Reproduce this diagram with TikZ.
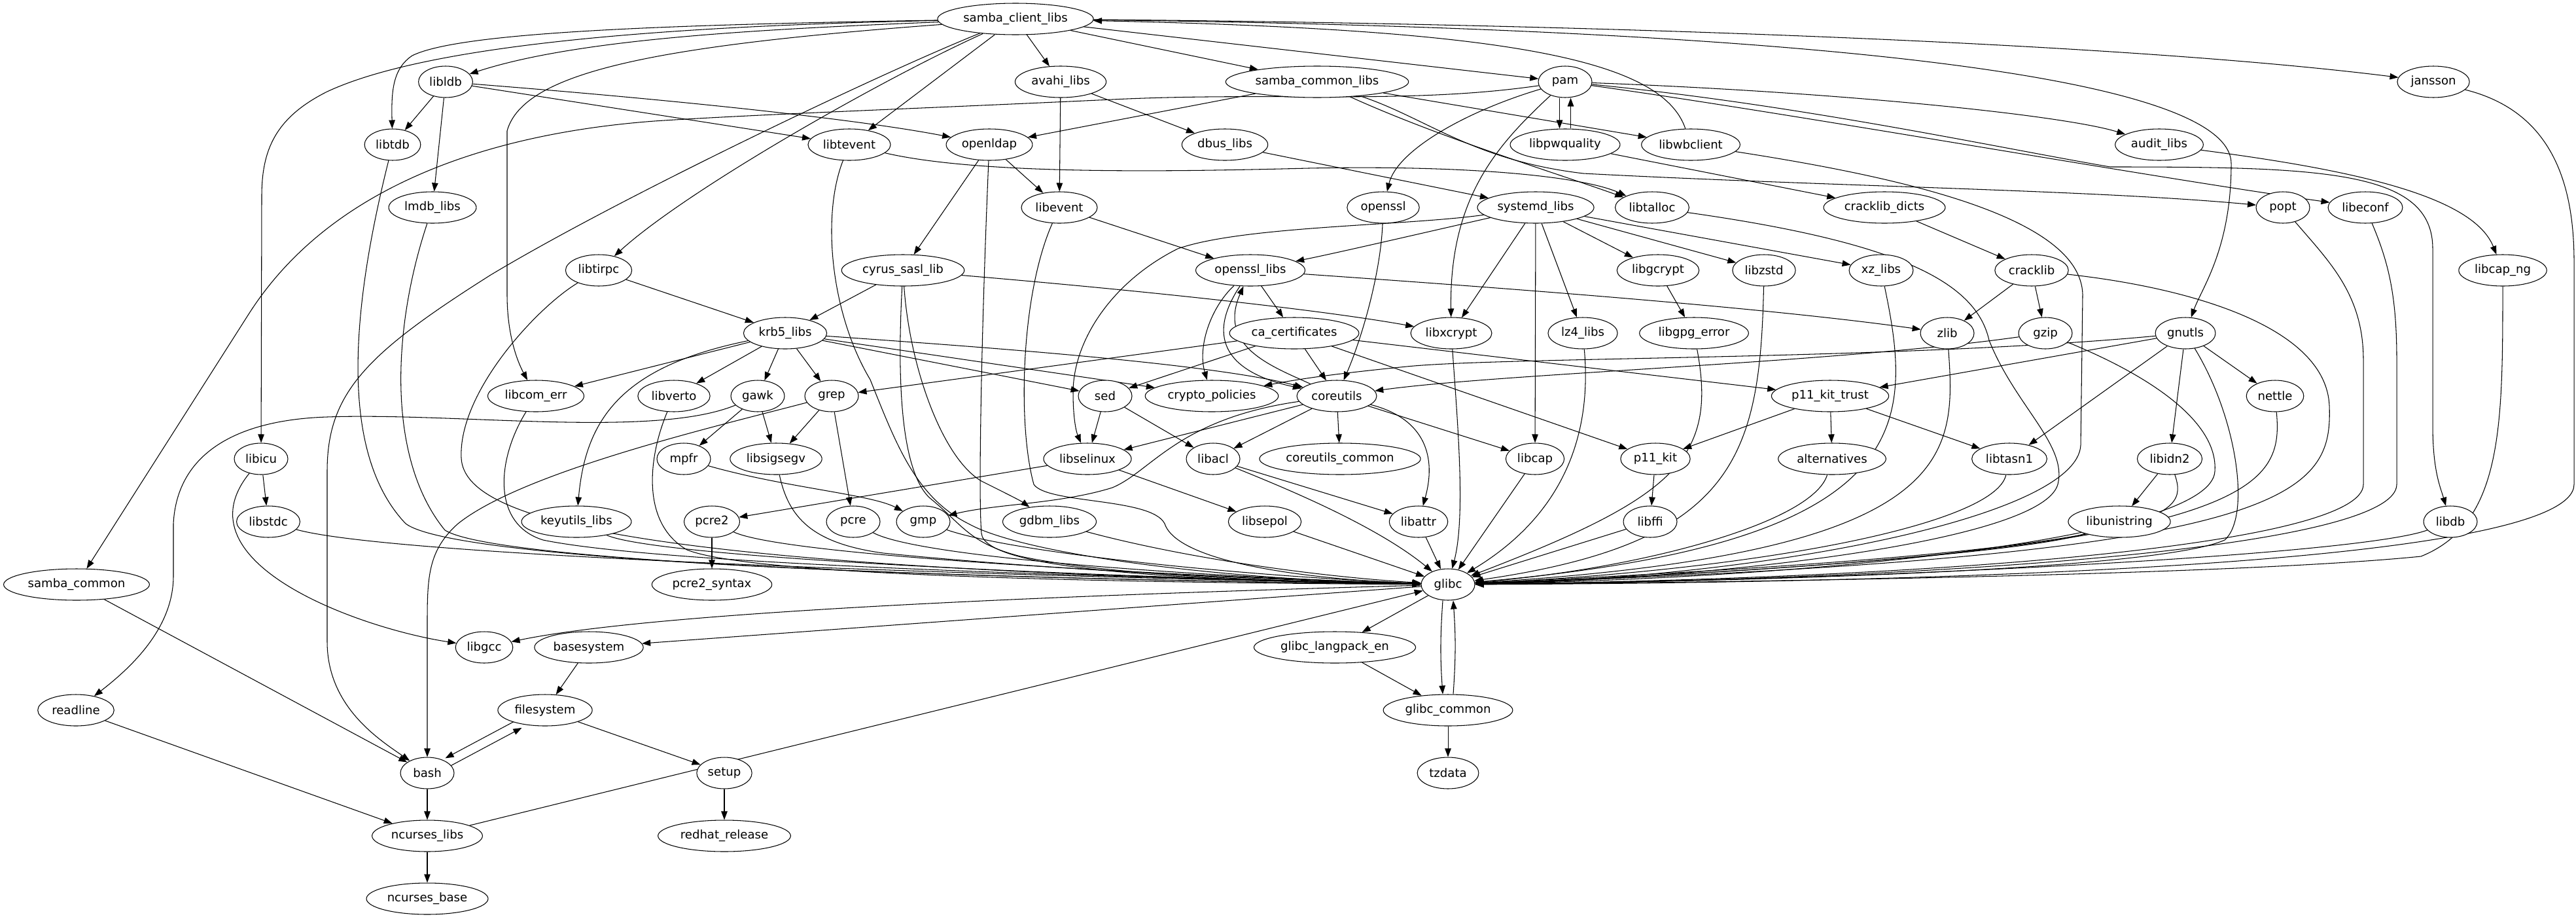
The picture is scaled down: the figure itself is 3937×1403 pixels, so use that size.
\documentclass[tikz,border=0pt]{standalone}
\usepackage{fontspec}
\setmainfont{DejaVu Sans}
\usetikzlibrary{arrows.meta,shapes.geometric,backgrounds}
\begin{document}
\begin{tikzpicture}[x=0.02cm,y=-0.02cm,
  pk/.style={draw,ellipse,line width=0.6pt,fill=white,minimum height=0.96cm,minimum width=1.64cm,inner xsep=0.09cm,inner ysep=0pt,font=\fontsize{10.3}{12}\selectfont},
  e/.style={line width=0.6pt,-{Triangle[length=0.26cm,width=0.19cm]}}]
\useasboundingbox (0,0) rectangle (3937,1403);
% rank 0
\node[pk] (scl) at (1552,29) {samba\_client\_libs};
% rank 1
\node[pk] (ldb) at (681,125) {libldb};
\node[pk] (avahi) at (1621,125) {avahi\_libs};
\node[pk] (scommonlibs) at (2013,125) {samba\_common\_libs};
\node[pk] (pam) at (2392,125) {pam};
\node[pk] (jansson) at (3719,125) {jansson};
% rank 2
\node[pk] (tdb) at (600,221) {libtdb};
\node[pk] (tevent) at (1298,221) {libtevent};
\node[pk] (openldap) at (1512,221) {openldap};
\node[pk] (dbus) at (1872,221) {dbus\_libs};
\node[pk] (pwq) at (2392,221) {libpwquality};
\node[pk] (wbc) at (2584,221) {libwbclient};
\node[pk] (audit) at (3300,221) {audit\_libs};
% rank 3
\node[pk] (lmdb) at (661,317) {lmdb\_libs};
\node[pk] (libevent) at (1619,317) {libevent};
\node[pk] (openssl) at (2114,317) {openssl};
\node[pk] (systemd) at (2347,317) {systemd\_libs};
\node[pk] (talloc) at (2525,317) {libtalloc};
\node[pk] (cdicts) at (2880,317) {cracklib\_dicts};
\node[pk] (popt) at (3489,317) {popt};
\node[pk] (econf) at (3615,317) {libeconf};
% rank 4
\node[pk] (tirpc) at (915,413) {libtirpc};
\node[pk] (sasl) at (1380,413) {cyrus\_sasl\_lib};
\node[pk] (ossllibs) at (1911,413) {openssl\_libs};
\node[pk] (gcrypt) at (2534,413) {libgcrypt};
\node[pk] (zstd) at (2696,413) {libzstd};
\node[pk] (xz) at (2875,413) {xz\_libs};
\node[pk] (cracklib) at (3105,413) {cracklib};
\node[pk] (capng) at (3825,413) {libcap\_ng};
% rank 5
\node[pk] (krb5) at (1200,509) {krb5\_libs};
\node[pk] (cacert) at (1978,509) {ca\_certificates};
\node[pk] (xcrypt) at (2218,509) {libxcrypt};
\node[pk] (lz4) at (2419,509) {lz4\_libs};
\node[pk] (gpgerr) at (2589,509) {libgpg\_error};
\node[pk] (zlib) at (2976,509) {zlib};
\node[pk] (gzip) at (3126,509) {gzip};
\node[pk] (gnutls) at (3340,509) {gnutls};
% rank 6
\node[pk] (comerr) at (819,605) {libcom\_err};
\node[pk] (verto) at (1030,605) {libverto};
\node[pk] (gawk) at (1158,605) {gawk};
\node[pk] (grep) at (1271,605) {grep};
\node[pk] (sed) at (1689,605) {sed};
\node[pk] (cpol) at (1852,605) {crypto\_policies};
\node[pk] (coreutils) at (2043,605) {coreutils};
\node[pk] (p11t) at (2797,605) {p11\_kit\_trust};
\node[pk] (nettle) at (3477,605) {nettle};
% rank 7
\node[pk] (icu) at (399,701) {libicu};
\node[pk] (mpfr) at (1045,701) {mpfr};
\node[pk] (sigsegv) at (1186,701) {libsigsegv};
\node[pk] (selinux) at (1662,701) {libselinux};
\node[pk] (acl) at (1854,701) {libacl};
\node[pk] (cucommon) at (2048,701) {coreutils\_common};
\node[pk] (cap) at (2346,701) {libcap};
\node[pk] (p11) at (2530,701) {p11\_kit};
\node[pk] (alt) at (2800,701) {alternatives};
\node[pk] (tasn1) at (3071,701) {libtasn1};
\node[pk] (idn2) at (3316,701) {libidn2};
% rank 8
\node[pk] (stdc) at (410,797) {libstdc};
\node[pk] (keyutils) at (881,797) {keyutils\_libs};
\node[pk] (pcre2) at (1088,797) {pcre2};
\node[pk] (pcre) at (1304,797) {pcre};
\node[pk] (gmp) at (1411,797) {gmp};
\node[pk] (gdbm) at (1604,797) {gdbm\_libs};
\node[pk] (sepol) at (1933,797) {libsepol};
\node[pk] (attr) at (2168,797) {libattr};
\node[pk] (ffi) at (2522,797) {libffi};
\node[pk] (unistr) at (3239,797) {libunistring};
\node[pk] (libdb) at (3745,797) {libdb};
% rank 9
\node[pk] (scommon) at (117,893) {samba\_common};
\node[pk] (pcre2syn) at (1088,893) {pcre2\_syntax};
\node[pk] (glibc) at (2213,893) {glibc};
% rank 10
\node[pk] (gcc) at (740,989) {libgcc};
\node[pk] (basesys) at (900,989) {basesystem};
\node[pk] (langpack) at (2040,989) {glibc\_langpack\_en};
% rank 11
\node[pk] (readline) at (116,1085) {readline};
\node[pk] (filesystem) at (833,1085) {filesystem};
\node[pk] (gcommon) at (2213,1085) {glibc\_common};
% rank 12
\node[pk] (bash) at (653,1181) {bash};
\node[pk] (setup) at (1107,1181) {setup};
\node[pk] (tzdata) at (2213,1181) {tzdata};
% rank 13
\node[pk] (nclibs) at (653,1277) {ncurses\_libs};
\node[pk] (redhat) at (1107,1277) {redhat\_release};
% rank 14
\node[pk] (ncbase) at (653,1373) {ncurses\_base};

\begin{pgfonlayer}{background}
\fill[white] (0,0) rectangle (3937,1403);
% samba_client_libs
\draw[e] (scl) .. controls (1150,45) and (880,60) .. (ldb);
\draw[e] (scl) .. controls (1000,38) and (700,50) .. (630,85) .. controls (600,105) and (598,140) .. (tdb);
\draw[e] (scl) .. controls (1000,40) and (650,70) .. (500,140) .. controls (420,180) and (400,230) .. (400,300) -- (icu);
\draw[e] (scl) .. controls (1000,70) and (800,110) .. (775,200) -- (775,450) .. controls (775,520) and (795,560) .. (comerr);
\draw[e] (scl) .. controls (1350,120) and (1050,290) .. (tirpc);
\draw[e] (scl) .. controls (1350,110) and (950,300) .. (750,420) .. controls (560,540) and (500,600) .. (500,720) -- (500,980) .. controls (500,1080) and (580,1130) .. (bash);
\draw[e] (scl) -- (tevent);
\draw[e] (scl) -- (avahi);
\draw[e] (scl) -- (scommonlibs);
\draw[e] (scl) -- (pam);
\draw[e] (scl) .. controls (2300,35) and (3200,60) .. (jansson);
\draw[e] (scl) .. controls (2500,40) and (3410,90) .. (3410,250) .. controls (3410,380) and (3365,440) .. (gnutls);
\draw[e] (wbc) .. controls (2540,90) and (2300,45) .. (scl);
% libldb
\draw[e] (ldb) -- (tdb);
\draw[e] (ldb) -- (lmdb);
\draw[e] (ldb) -- (tevent);
\draw[e] (ldb) .. controls (1000,150) and (1300,180) .. (openldap);
% pam
\draw[e] ([xshift=-0.17cm]pam.south) -- ([xshift=-0.17cm]pwq.north);
\draw[e] ([xshift=0.17cm]pwq.north) -- ([xshift=0.17cm]pam.south);
\draw[e] (pam) .. controls (2240,170) and (2135,230) .. (openssl);
\draw[e] (pam) .. controls (2290,220) and (2215,300) .. (xcrypt);
\draw[e] (pam) .. controls (2800,140) and (3150,175) .. (audit);
\draw[e] (pam) .. controls (2750,175) and (3250,265) .. (econf);
\draw[e] (pam) .. controls (2750,160) and (3050,225) .. (3225,255) .. controls (3550,255) and (3718,260) .. (3718,380) -- (3718,650) .. controls (3718,720) and (3730,745) .. (libdb);
\draw[e] (pam) .. controls (2150,160) and (1950,140) .. (1700,152) .. controls (1400,166) and (1150,175) .. (1000,185) .. controls (800,200) and (520,260) .. (380,480) -- (scommon);
% samba_common_libs
\draw[e] (scommonlibs) -- (openldap);
\draw[e] (scommonlibs) -- (wbc);
\draw[e] (scommonlibs) .. controls (2200,210) and (2380,265) .. (talloc);
\draw[e] (scommonlibs) .. controls (2180,180) and (2250,245) .. (2420,265) .. controls (2800,285) and (3200,290) .. (popt);
% avahi, dbus, tevent
\draw[e] (avahi) -- (libevent);
\draw[e] (avahi) -- (dbus);
\draw[e] (dbus) -- (systemd);
\draw[e] (tevent) .. controls (1500,268) and (1800,262) .. (2000,257) .. controls (2250,252) and (2420,270) .. (talloc);
\draw[e] (tevent) .. controls (1255,330) and (1270,480) .. (1330,580) .. controls (1370,680) and (1400,760) .. (1480,800) .. controls (1560,845) and (1850,885) .. (glibc);
% openldap, cyrus, libevent
\draw[e] (openldap) -- (sasl);
\draw[e] (openldap) -- (libevent);
\draw[e] (openldap) .. controls (1500,500) and (1495,760) .. (1500,815) .. controls (1505,870) and (1800,887) .. (glibc);
\draw[e] (sasl) -- (krb5);
\draw[e] (sasl) .. controls (1700,440) and (2000,470) .. (xcrypt);
\draw[e] (sasl) .. controls (1390,560) and (1440,700) .. (1500,735) .. controls (1540,755) and (1560,765) .. (gdbm);
\draw[e] (sasl) .. controls (1370,600) and (1380,720) .. (1420,760) .. controls (1470,800) and (1480,830) .. (1560,850) .. controls (1700,880) and (1950,888) .. (glibc);
\draw[e] (libevent) -- (ossllibs);
\draw[e] (libevent) .. controls (1560,450) and (1555,650) .. (1580,740) .. controls (1600,770) and (1760,760) .. (1780,800) .. controls (1800,860) and (2000,885) .. (glibc);
% systemd
\draw[e] (systemd) .. controls (2200,350) and (2050,385) .. (ossllibs);
\draw[e] (systemd) .. controls (2150,345) and (1900,345) .. (1800,380) .. controls (1700,430) and (1640,520) .. (1640,600) .. controls (1640,640) and (1645,660) .. (selinux);
\draw[e] (systemd) -- (xcrypt);
\draw[e] (systemd) -- (cap);
\draw[e] (systemd) -- (lz4);
\draw[e] (systemd) -- (gcrypt);
\draw[e] (systemd) -- (zstd);
\draw[e] (systemd) -- (xz);
% openssl, openssl_libs
\draw[e] (openssl) .. controls (2110,420) and (2080,520) .. (coreutils);
\draw[e] (ossllibs) .. controls (1850,470) and (1830,530) .. (cpol);
\draw[e] (ossllibs) -- (cacert);
\draw[e] (ossllibs) .. controls (2300,440) and (2700,470) .. (zlib);
\draw[e] (ossllibs) .. controls (1840,520) and (1880,570) .. (coreutils);
\draw[e] (coreutils) .. controls (1945,560) and (1860,530) .. (ossllibs);
% ca_certificates
\draw[e] (cacert) -- (grep);
\draw[e] (cacert) -- (sed);
\draw[e] (cacert) -- (coreutils);
\draw[e] (cacert) -- (p11t);
\draw[e] (cacert) -- (p11);
% coreutils
\draw[e] (coreutils) -- (cucommon);
\draw[e] (coreutils) -- (cap);
\draw[e] (coreutils) .. controls (2180,640) and (2195,700) .. (attr);
\draw[e] (coreutils) -- (acl);
\draw[e] (coreutils) -- (selinux);
\draw[e] (coreutils) .. controls (1800,640) and (1760,720) .. (1700,745) .. controls (1620,770) and (1520,770) .. (gmp);
% sed, selinux, acl
\draw[e] (sed) -- (selinux);
\draw[e] (sed) -- (acl);
\draw[e] (selinux) -- (pcre2);
\draw[e] (selinux) -- (sepol);
\draw[e] (acl) -- (attr);
\draw[e] (acl) .. controls (1950,740) and (2100,800) .. (glibc);
% into glibc from above / right
\draw[e] (sepol) -- (glibc);
\draw[e] (attr) -- (glibc);
\draw[e] (cap) -- (glibc);
\draw[e] (xcrypt) .. controls (2228,650) and (2240,790) .. (glibc);
\draw[e] (lz4) .. controls (2432,650) and (2400,780) .. (glibc);
\draw[e] (gcrypt) -- (gpgerr);
\draw[e] (gpgerr) .. controls (2625,700) and (2560,760) .. (glibc);
\draw[e] (zstd) .. controls (2690,700) and (2650,830) .. (glibc);
\draw[e] (xz) .. controls (2925,650) and (2930,830) .. (glibc);
\draw[e] (zlib) .. controls (2990,700) and (2990,845) .. (glibc);
\draw[e] (p11) -- (ffi);
\draw[e] (ffi) -- (glibc);
\draw[e] (alt) .. controls (2770,800) and (2500,870) .. (glibc);
\draw[e] (p11t) -- (p11);
\draw[e] (p11t) -- (alt);
\draw[e] (p11t) -- (tasn1);
\draw[e] (tasn1) .. controls (3050,800) and (2700,870) .. (glibc);
\draw[e] (unistr) .. controls (3100,845) and (2600,880) .. (glibc);
\draw[e] (idn2) -- (unistr);
\draw[e] (idn2) .. controls (3345,790) and (3330,840) .. (glibc);
% gnutls
\draw[e] (gnutls) -- (p11t);
\draw[e] (gnutls) -- (tasn1);
\draw[e] (gnutls) -- (idn2);
\draw[e] (gnutls) -- (nettle);
\draw[e] (gnutls) .. controls (3420,640) and (3440,790) .. (3400,825) .. controls (3300,870) and (2700,888) .. (glibc);
\draw[e] (gnutls) .. controls (2900,550) and (2300,545) .. (2150,560) .. controls (2050,570) and (1990,578) .. (cpol);
\draw[e] (nettle) .. controls (3490,750) and (3450,845) .. (glibc);
\draw[e] (libdb) .. controls (3600,850) and (2800,888) .. (glibc);
% cracklib, gzip
\draw[e] (cracklib) -- (zlib);
\draw[e] (cracklib) -- (gzip);
\draw[e] (cracklib) .. controls (3350,440) and (3555,500) .. (3560,620) .. controls (3565,760) and (3500,850) .. (glibc);
\draw[e] (gzip) .. controls (2800,555) and (2300,570) .. (coreutils);
\draw[e] (gzip) .. controls (3300,580) and (3390,650) .. (3385,720) .. controls (3380,820) and (2800,882) .. (glibc);
\draw[e] (cdicts) -- (cracklib);
\draw[e] (pwq) -- (cdicts);
\draw[e] (wbc) .. controls (2900,270) and (3180,330) .. (3183,450) -- (3180,680) .. controls (3175,790) and (2700,882) .. (glibc);
\draw[e] (talloc) .. controls (2900,370) and (3020,430) .. (3040,520) .. controls (3080,620) and (3160,680) .. (3145,740) .. controls (3120,830) and (2600,885) .. (glibc);
% far right
\draw[e] (audit) .. controls (3600,260) and (3780,300) .. (capng);
\draw[e] (capng) .. controls (3825,650) and (3825,800) .. (3700,850) .. controls (3400,880) and (2600,890) .. (glibc);
\draw[e] (econf) .. controls (3650,400) and (3663,450) .. (3663,550) -- (3663,740) .. controls (3663,835) and (3000,885) .. (glibc);
\draw[e] (popt) .. controls (3560,400) and (3612,450) .. (3612,550) -- (3612,740) .. controls (3612,830) and (3000,883) .. (glibc);
\draw[e] (jansson) .. controls (3900,170) and (3934,280) .. (3934,400) -- (3934,740) .. controls (3934,860) and (3000,890) .. (glibc);
% left side into glibc
\draw[e] (tdb) .. controls (530,500) and (525,700) .. (620,800) .. controls (700,860) and (1500,885) .. (glibc);
\draw[e] (lmdb) .. controls (600,500) and (590,700) .. (680,810) .. controls (760,860) and (1500,885) .. (glibc);
\draw[e] (tirpc) .. controls (820,470) and (700,600) .. (705,700) .. controls (710,800) and (1000,870) .. (glibc);
\draw[e] (comerr) .. controls (760,700) and (750,800) .. (830,825) .. controls (1000,860) and (1600,880) .. (glibc);
\draw[e] (keyutils) .. controls (1000,850) and (1600,880) .. (glibc);
\draw[e] (stdc) .. controls (600,850) and (1500,880) .. (glibc);
\draw[e] (verto) .. controls (990,700) and (980,800) .. (1050,840) .. controls (1150,880) and (1700,890) .. (glibc);
\draw[e] (sigsegv) .. controls (1205,790) and (1240,830) .. (1350,845) .. controls (1600,870) and (1900,885) .. (glibc);
\draw[e] (pcre2) .. controls (1200,850) and (1800,880) .. (glibc);
\draw[e] (pcre) .. controls (1400,850) and (1800,880) .. (glibc);
\draw[e] (gmp) .. controls (1550,845) and (1900,880) .. (glibc);
\draw[e] (gdbm) .. controls (1800,850) and (2000,880) .. (glibc);
\draw[e] (nclibs) -- (glibc);
% krb5
\draw[e] (tirpc) -- (krb5);
\draw[e] (krb5) -- (comerr);
\draw[e] (krb5) .. controls (950,560) and (895,640) .. (keyutils);
\draw[e] (krb5) -- (verto);
\draw[e] (krb5) -- (gawk);
\draw[e] (krb5) -- (grep);
\draw[e] (krb5) -- (sed);
\draw[e] (krb5) -- (cpol);
\draw[e] (krb5) .. controls (1500,530) and (1850,555) .. (coreutils);
% gawk, grep, mpfr
\draw[e] (gawk) -- (mpfr);
\draw[e] (gawk) -- (sigsegv);
\draw[e] (gawk) .. controls (1000,670) and (700,630) .. (500,637) .. controls (350,642) and (270,700) .. (265,800) -- (265,880) .. controls (265,960) and (200,1020) .. (readline);
\draw[e] (grep) -- (sigsegv);
\draw[e] (grep) -- (pcre);
\draw[e] (grep) .. controls (1100,650) and (800,720) .. (700,800) .. controls (655,840) and (653,880) .. (653,950) -- (bash);
\draw[e] (mpfr) .. controls (1200,745) and (1330,755) .. (gmp);
\draw[e] (pcre2) -- (pcre2syn);
% libicu
\draw[e] (icu) -- (stdc);
\draw[e] (icu) .. controls (270,860) and (550,960) .. (gcc);
% glibc outgoing
\draw[e] (glibc) .. controls (1600,910) and (1000,935) .. (gcc);
\draw[e] (glibc) -- (basesys);
\draw[e] (glibc) -- (langpack);
\draw[e] ([xshift=-0.16cm]glibc.south) to[bend right=4] ([xshift=-0.16cm]gcommon.north);
\draw[e] ([xshift=0.16cm]gcommon.north) to[bend right=4] ([xshift=0.16cm]glibc.south);
\draw[e] (langpack) -- (gcommon);
\draw[e] (gcommon) -- (tzdata);
% bottom left
\draw[e] (basesys) -- (filesystem);
\draw[e,transform canvas={xshift=-0.066cm,yshift=0.124cm}] (filesystem) -- (bash);
\draw[e,transform canvas={xshift=0.066cm,yshift=-0.124cm}] (bash) -- (filesystem);
\draw[e] (filesystem) -- (setup);
\draw[e] (setup) -- (redhat);
\draw[e] (bash) -- (nclibs);
\draw[e] (readline) -- (nclibs);
\draw[e] (nclibs) -- (ncbase);
\draw[e] (scommon) -- (bash);
\end{pgfonlayer}
\end{tikzpicture}
\end{document}
